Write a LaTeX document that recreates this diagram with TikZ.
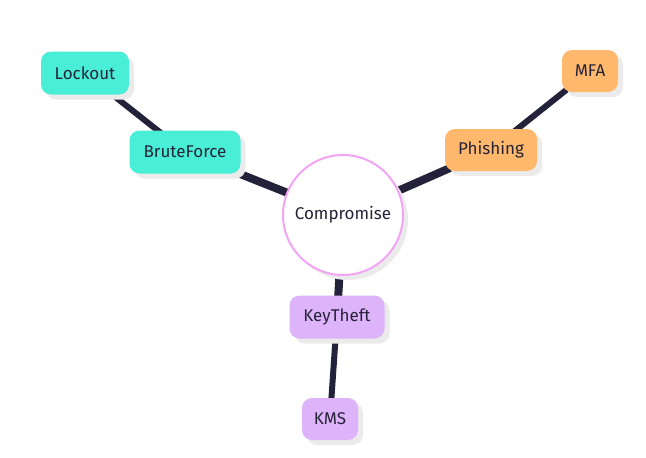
\documentclass[tikz,border=0pt]{standalone}
\usepackage{fontspec}
\setmainfont{Fira Sans}
\usetikzlibrary{shadows}
\definecolor{teal}{HTML}{48EED6}
\definecolor{orng}{HTML}{FFB86C}
\definecolor{purp}{HTML}{DDB3FA}
\definecolor{pinkline}{HTML}{F2A5F5}
\definecolor{edgec}{HTML}{24213A}
\definecolor{txt}{HTML}{262338}
\definecolor{shad}{HTML}{EBEBEB}
\tikzset{
  leaf/.style={rounded corners=10pt, inner sep=0pt, text=txt, font=\fontsize{17}{20}\selectfont,
    drop shadow={shadow xshift=5pt, shadow yshift=-5pt, fill=shad, opacity=1}},
  root/.style={circle, draw=pinkline, line width=2pt, fill=white, minimum size=120pt, inner sep=0pt,
    text=txt, font=\fontsize{17}{20}\selectfont,
    drop shadow={shadow xshift=5pt, shadow yshift=-5pt, fill=shad, opacity=1}},
  thick edge/.style={draw=edgec, line width=8pt},
  thin edge/.style={draw=edgec, line width=6pt},
}
\begin{document}
\begin{tikzpicture}[x=1pt,y=-1pt]
\useasboundingbox (0,0) rectangle (646,458);
% edges first (behind)
\coordinate (cC) at (343,215);
\coordinate (cL) at (85,73);
\coordinate (cB) at (185,152);
\coordinate (cP) at (491,150);
\coordinate (cM) at (590,71);
\coordinate (cK) at (337,317);
\coordinate (cS) at (330,419);
\draw[thick edge] (cC) -- (cB);
\draw[thick edge] (cC) -- (cP);
\draw[thick edge] (cC) -- (cK);
\draw[thin edge] (cB) -- (cL);
\draw[thin edge] (cP) -- (cM);
\draw[thin edge] (cK) -- (cS);
% nodes
\node[root] (comp) at (cC) {Compromise};
\node[leaf, fill=teal, minimum width=88pt, minimum height=43pt] (lock) at (cL) {Lockout};
\node[leaf, fill=teal, minimum width=111pt, minimum height=43pt] (brute) at (cB) {BruteForce};
\node[leaf, fill=orng, minimum width=92pt, minimum height=42pt] (phish) at (cP) {Phishing};
\node[leaf, fill=orng, minimum width=56pt, minimum height=42pt] (mfa) at (cM) {MFA};
\node[leaf, fill=purp, minimum width=95pt, minimum height=43pt] (key) at (cK) {KeyTheft};
\node[leaf, fill=purp, minimum width=56pt, minimum height=42pt] (kms) at (cS) {KMS};
\end{tikzpicture}
\end{document}
